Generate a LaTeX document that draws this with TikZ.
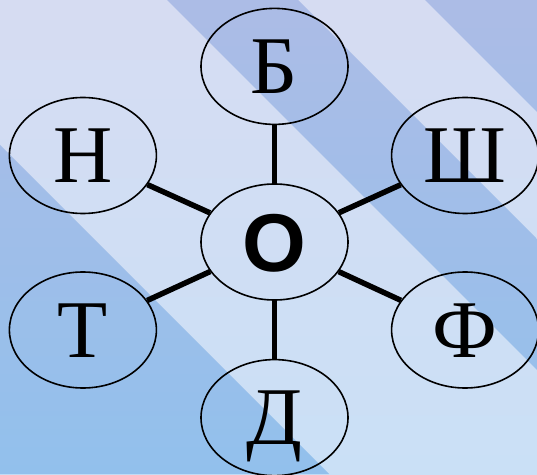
\documentclass[tikz,border=0pt]{standalone}
\usepackage{fontspec}
\setmainfont{Liberation Serif}
\newfontfamily\sansfam{Liberation Sans}
\usetikzlibrary{positioning,shapes.geometric}
\definecolor{paletop}{RGB}{214,220,242}
\definecolor{palebot}{RGB}{202,224,246}
\definecolor{deeptop}{RGB}{172,188,230}
\definecolor{deepbot}{RGB}{146,192,236}

\begin{document}
\begin{tikzpicture}[x=1pt,y=1pt,
  bub/.style={draw,ellipse,line width=1.6pt,minimum width=147pt,minimum height=116pt,inner sep=0pt,font=\fontsize{82}{90}\selectfont,text height=54pt,text depth=0pt},
  spoke/.style={line width=5.5pt}]
% background with diagonal stripes
\useasboundingbox (0,0) rectangle (537,474);
\shade[top color=paletop,bottom color=palebot] (0,0) rectangle (537,474);
\begin{scope}
  \clip (0,0) -- (0,329) -- (329,0) -- cycle
        (167,474) -- (298,474) -- (537,235) -- (537,104) -- cycle
        (425,474) -- (537,474) -- (537,362) -- cycle;
  \shade[top color=deeptop,bottom color=deepbot] (0,0) rectangle (537,474);
\end{scope}
% letters
\node[bub,font=\sansfam\bfseries\fontsize{82}{90}\selectfont,text height=59pt] (o) at (274.5,232) {О};
\node[bub,above=58pt of o] (b) {Б};
\node[bub,below=58pt of o] (d) {Д};
\node[bub,left=43pt of o,yshift=86.5pt] (n) {Н};
\node[bub,right=42pt of o,yshift=86.5pt] (sh) {Ш};
\node[bub,left=43pt of o,yshift=-88pt] (t) {Т};
\node[bub,right=42pt of o,yshift=-88pt] (f) {Ф};
\draw[spoke] (b) -- (o);
\draw[spoke] (d) -- (o);
\draw[spoke] (n) -- (o);
\draw[spoke] (sh) -- (o);
\draw[spoke] (t) -- (o);
\draw[spoke] (f) -- (o);
\end{tikzpicture}
\end{document}
